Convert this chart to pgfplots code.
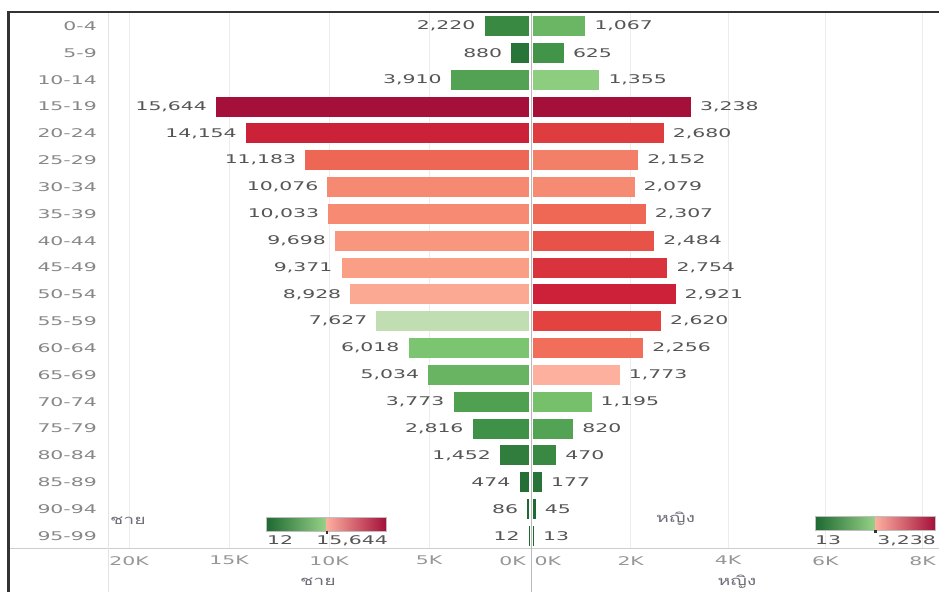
\documentclass[border=0pt]{standalone}
\usepackage{pgfplots}
\pgfplotsset{compat=1.18}
\usepackage{fontspec}
\setmainfont{DejaVu Sans}
\newfontfamily\tabfont[FakeStretch=1.7]{DejaVu Sans}
\newfontfamily\thaifont[Script=Thai,FakeStretch=1.5]{Loma}

\definecolor{valgray}{RGB}{85,85,85}
\definecolor{agegray}{RGB}{135,135,135}
\definecolor{tickgray}{RGB}{150,150,150}
\definecolor{titlegray}{RGB}{110,110,120}
\definecolor{gridc}{RGB}{236,236,236}
\definecolor{sepc}{RGB}{205,205,205}

% male bar colours
\definecolor{m0}{RGB}{57,137,67}
\definecolor{m1}{RGB}{41,117,57}
\definecolor{m2}{RGB}{83,162,84}
\definecolor{m3}{RGB}{165,16,58}
\definecolor{m4}{RGB}{203,33,57}
\definecolor{m5}{RGB}{238,103,85}
\definecolor{m6}{RGB}{246,137,114}
\definecolor{m7}{RGB}{246,138,115}
\definecolor{m8}{RGB}{248,150,126}
\definecolor{m9}{RGB}{250,159,134}
\definecolor{m10}{RGB}{251,169,147}
\definecolor{m11}{RGB}{193,222,179}
\definecolor{m12}{RGB}{123,196,112}
\definecolor{m13}{RGB}{104,180,99}
\definecolor{m14}{RGB}{80,160,82}
\definecolor{m15}{RGB}{64,145,72}
\definecolor{m16}{RGB}{48,125,61}
\definecolor{m17}{RGB}{36,111,54}
\definecolor{m18}{RGB}{31,105,50}
\definecolor{m19}{RGB}{30,104,50}
% female bar colours
\definecolor{f0}{RGB}{106,182,100}
\definecolor{f1}{RGB}{66,148,73}
\definecolor{f2}{RGB}{140,205,127}
\definecolor{f3}{RGB}{165,16,58}
\definecolor{f4}{RGB}{222,60,63}
\definecolor{f5}{RGB}{244,127,105}
\definecolor{f6}{RGB}{246,139,116}
\definecolor{f7}{RGB}{239,104,85}
\definecolor{f8}{RGB}{232,83,73}
\definecolor{f9}{RGB}{217,52,61}
\definecolor{f10}{RGB}{205,33,57}
\definecolor{f11}{RGB}{226,67,64}
\definecolor{f12}{RGB}{240,110,90}
\definecolor{f13}{RGB}{252,176,157}
\definecolor{f14}{RGB}{118,192,108}
\definecolor{f15}{RGB}{83,163,84}
\definecolor{f16}{RGB}{57,137,67}
\definecolor{f17}{RGB}{40,116,56}
\definecolor{f18}{RGB}{31,105,51}
\definecolor{f19}{RGB}{30,104,50}

\definecolor{gdark}{RGB}{30,104,50}
\definecolor{glight}{RGB}{150,210,135}
\definecolor{rlight}{RGB}{253,175,160}
\definecolor{rdark}{RGB}{165,16,58}

\newcommand{\bb}[3]{\addplot[xbar, bar width=20pt, bar shift=0pt, fill=#3, draw=none] coordinates {(#1,#2)};}

\pgfplotsset{
  pyr/.style={
    scale only axis, height=537pt,
    ymin=-0.56, ymax=19.45, y dir=reverse,
    axis line style={draw=none},
    major tick length=0pt,
    scaled x ticks=false,
    xmajorgrids, grid style={gridc, line width=0.8pt},
    clip=false,
    point meta=x,
    nodes near coords={\pgfmathprintnumber[assume math mode=true,fixed,precision=0,1000 sep={,}]{\pgfplotspointmeta}},
    xticklabel style={font=\tabfont\fontsize{12}{12}\selectfont, text=tickgray, inner sep=0pt, anchor=north, yshift=-8pt},
    /pgf/number format/assume math mode=true,
  },
  mval/.style={every node near coord/.append style={font=\tabfont\fontsize{12}{12}\selectfont, text=valgray, inner sep=0pt, anchor=east, xshift=-9pt}},
  fval/.style={every node near coord/.append style={font=\tabfont\fontsize{12}{12}\selectfont, text=valgray, inner sep=0pt, anchor=west, xshift=9pt}},
}

\begin{document}
\begin{tikzpicture}[x=1pt,y=1pt]
\useasboundingbox (0,0) rectangle (939,592);

% separators
\draw[sepc, line width=0.8pt] (8,44) -- (939,44);
\draw[gridc!70!sepc, line width=0.8pt] (108,0) -- (108,580);
\draw[sepc!90!black, line width=0.8pt] (531.5,0) -- (531.5,580);

% male axis
\begin{axis}[pyr, at={(108pt,44pt)}, anchor=south west, width=421pt,
  xmin=0, xmax=21050, x dir=reverse,
  xtick={5000,10000,15000,20000}, xticklabels={5K,10K,15K,20K},
  extra x ticks={0}, extra x tick labels={0K},
  extra x tick style={grid=none, xticklabel style={anchor=north east, xshift=-3pt}},
  ytick={0,...,19},
  yticklabels={0-4,5-9,10-14,15-19,20-24,25-29,30-34,35-39,40-44,45-49,50-54,55-59,60-64,65-69,70-74,75-79,80-84,85-89,90-94,95-99},
  yticklabel style={font=\tabfont\fontsize{12}{12}\selectfont, text=agegray, inner sep=0pt, anchor=east, xshift=-11pt},
  mval]
\bb{2220}{0}{m0}
\bb{880}{1}{m1}
\bb{3910}{2}{m2}
\bb{15644}{3}{m3}
\bb{14154}{4}{m4}
\bb{11183}{5}{m5}
\bb{10076}{6}{m6}
\bb{10033}{7}{m7}
\bb{9698}{8}{m8}
\bb{9371}{9}{m9}
\bb{8928}{10}{m10}
\bb{7627}{11}{m11}
\bb{6018}{12}{m12}
\bb{5034}{13}{m13}
\bb{3773}{14}{m14}
\bb{2816}{15}{m15}
\bb{1452}{16}{m16}
\bb{474}{17}{m17}
\bb{86}{18}{m18}
\bb{12}{19}{m19}
\end{axis}

% female axis
\begin{axis}[pyr, at={(531pt,44pt)}, anchor=south west, width=408pt,
  xmin=-49, xmax=8337,
  xtick={2000,4000,6000,8000}, xticklabels={2K,4K,6K,8K},
  extra x ticks={0}, extra x tick labels={0K},
  extra x tick style={grid=none, xticklabel style={anchor=north west, xshift=1pt}},
  ytick=\empty,
  fval]
\bb{1067}{0}{f0}
\bb{625}{1}{f1}
\bb{1355}{2}{f2}
\bb{3238}{3}{f3}
\bb{2680}{4}{f4}
\bb{2152}{5}{f5}
\bb{2079}{6}{f6}
\bb{2307}{7}{f7}
\bb{2484}{8}{f8}
\bb{2754}{9}{f9}
\bb{2921}{10}{f10}
\bb{2620}{11}{f11}
\bb{2256}{12}{f12}
\bb{1773}{13}{f13}
\bb{1195}{14}{f14}
\bb{820}{15}{f15}
\bb{470}{16}{f16}
\bb{177}{17}{f17}
\bb{45}{18}{f18}
\bb{13}{19}{f19}
\end{axis}

% frame
\draw[black!80, line width=2.2pt] (8.5,0) -- (8.5,580) -- (939,580);

% axis titles
\node[font=\thaifont\fontsize{13}{13}\selectfont, text=titlegray] at (318,10) {ชาย};
\node[font=\thaifont\fontsize{13}{13}\selectfont, text=titlegray] at (737,10) {หญิง};

% male colour legend
\node[anchor=west, inner sep=0pt, font=\thaifont\fontsize{13}{13}\selectfont, text=titlegray] at (110,71) {ชาย};
\shade[left color=gdark, right color=glight] (266,61) rectangle (326,75);
\shade[left color=rlight, right color=rdark] (326,61) rectangle (386,75);
\draw[black!25, line width=0.5pt] (266,61) rectangle (386,75);
\fill[black!80] (325.5,58.5) rectangle (328,61);
\node[anchor=north west, inner sep=0pt, font=\tabfont\fontsize{12}{12}\selectfont, text=valgray] at (267,57) {12};
\node[anchor=north east, inner sep=0pt, font=\tabfont\fontsize{12}{12}\selectfont, text=valgray] at (388,57) {15,644};

% female colour legend
\node[anchor=west, inner sep=0pt, font=\thaifont\fontsize{13}{13}\selectfont, text=titlegray] at (656,73) {หญิง};
\shade[left color=gdark, right color=glight] (815,62) rectangle (875,76);
\shade[left color=rlight, right color=rdark] (875,62) rectangle (935,76);
\draw[black!25, line width=0.5pt] (815,62) rectangle (935,76);
\fill[black!80] (874,59.5) rectangle (876.5,62);
\node[anchor=north west, inner sep=0pt, font=\tabfont\fontsize{12}{12}\selectfont, text=valgray] at (815,57) {13};
\node[anchor=north east, inner sep=0pt, font=\tabfont\fontsize{12}{12}\selectfont, text=valgray] at (936,57) {3,238};
\end{tikzpicture}
\end{document}
